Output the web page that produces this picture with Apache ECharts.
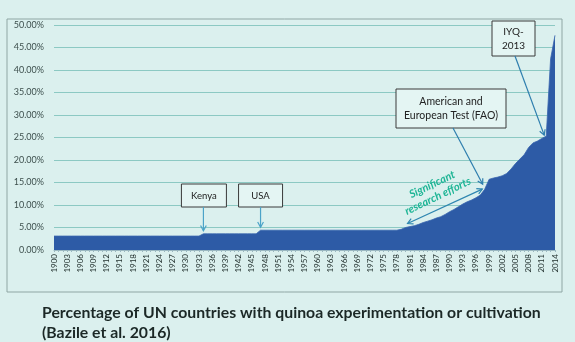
<!DOCTYPE html>
<html><head><meta charset="utf-8">
<script src="https://cdn.jsdelivr.net/npm/echarts@6/dist/echarts.min.js"></script>
<style>html,body{margin:0;padding:0;background:#dbf0ee;}#c{width:575px;height:342px;}</style>
</head><body><div id="c"></div>
<script>
// Categories: every year 1900..2014
const years = [];
for (let y = 1900; y <= 2014; y++) years.push(String(y));

// Percentage of UN countries with quinoa experimentation or cultivation (%)
const share = [
  3.1,3.1,3.1,3.1,3.1,3.1,3.1,3.1,3.1,3.1,      // 1900-1909
  3.1,3.1,3.1,3.1,3.1,3.1,3.1,3.1,3.1,3.1,      // 1910-1919
  3.1,3.1,3.1,3.1,3.1,3.1,3.1,3.1,3.1,3.1,      // 1920-1929
  3.1,3.1,3.1,3.1,3.6,3.6,3.6,3.6,3.6,3.6,      // 1930-1939
  3.6,3.6,3.6,3.6,3.6,3.6,3.6,4.4,4.4,4.4,      // 1940-1949
  4.4,4.4,4.4,4.4,4.4,4.4,4.4,4.4,4.4,4.4,      // 1950-1959
  4.4,4.4,4.4,4.4,4.4,4.4,4.4,4.4,4.4,4.4,      // 1960-1969
  4.4,4.4,4.4,4.4,4.4,4.4,4.4,4.4,4.4,4.6,      // 1970-1979
  5.0,5.2,5.4,5.7,6.1,6.4,6.7,7.1,7.4,7.9,      // 1980-1989
  8.5,9.0,9.6,10.2,10.7,11.1,11.6,12.2,13.5,15.7, // 1990-1999
  16.0,16.2,16.5,17.0,18.0,19.2,20.2,21.2,22.8,23.8, // 2000-2009
  24.2,24.8,25.3,42.5,47.7                      // 2010-2014
];

// Annotations
const notes = [
  {label: ['Kenya'], year: '1934'},
  {label: ['USA'], year: '1947'},
  {label: ['American and', 'European Test (FAO)'], year: '1998'},
  {label: ['IYQ-', '2013'], year: '2012'}
];
const effortSpan = ['1980', '1997'];
const effortText = 'Significant\nresearch efforts';
const titleLines = ['Percentage of UN countries with quinoa experimentation or cultivation', '(Bazile et al. 2016)'];

const FONT = 'Lato, "Liberation Sans", sans-serif';
const chart = echarts.init(document.getElementById('c'));
chart.setOption({
  backgroundColor: '#dbf0ee',
  animation: false,
  grid: {left: 54, right: 20, top: 25, bottom: 92},
  xAxis: {
    type: 'category', data: years, boundaryGap: false,
    axisLine: {lineStyle: {color: '#9ab7c0'}},
    axisTick: {show: true, interval: 0, length: 2, lineStyle: {color: '#9ab7c0'}},
    axisLabel: {interval: 2, rotate: 90, fontSize: 8, color: '#22302e', fontFamily: FONT, margin: 4},
    splitLine: {show: false}
  },
  yAxis: {
    type: 'value', min: 0, max: 50, interval: 5,
    axisLine: {show: false}, axisTick: {show: false},
    axisLabel: {formatter: v => v.toFixed(2) + '%', fontSize: 9, color: '#3d4f4d', fontFamily: FONT, margin: 10},
    splitLine: {lineStyle: {color: '#8cc9c3', width: 1}}
  },
  series: [{
    type: 'line', data: share, symbol: 'none',
    lineStyle: {width: 0.8, color: '#3a66ae'},
    areaStyle: {color: '#2d5ba6', opacity: 1}
  }]
});

function arrow(x1, y1, x2, y2, color, both) {
  const els = [{type: 'line', shape: {x1, y1, x2, y2}, style: {stroke: color, lineWidth: 1.2}, z: 10}];
  const head = (xa, ya, xb, yb) => {
    const a = Math.atan2(yb - ya, xb - xa), L = 6, w = 0.5;
    return {type: 'polyline', z: 10, shape: {points: [
      [xb - L * Math.cos(a - w), yb - L * Math.sin(a - w)], [xb, yb],
      [xb - L * Math.cos(a + w), yb - L * Math.sin(a + w)]]},
      style: {stroke: color, fill: null, lineWidth: 1.2}};
  };
  els.push(head(x1, y1, x2, y2));
  if (both) els.push(head(x2, y2, x1, y1));
  return els;
}
function box(x, y, w, h, lines, fs) {
  return [
    {type: 'rect', z: 10, shape: {x, y, width: w, height: h}, style: {fill: '#e4f5f3', stroke: '#3a3a3a', lineWidth: 1}},
    {type: 'text', z: 11, x: x + w / 2, y: y + h / 2, style: {text: lines.join('\n'), align: 'center', verticalAlign: 'middle', fontSize: fs, lineHeight: fs + 4, fill: '#222', fontFamily: FONT}}
  ];
}
const px = (yr) => chart.convertToPixel({gridIndex: 0}, [yr, share[years.indexOf(yr)]]);

const g = [];
// chart frame
g.push({type: 'rect', z: 0, shape: {x: 7, y: 19, width: 555, height: 273}, style: {fill: null, stroke: '#8fa6a4', lineWidth: 1}});
// Kenya
let p = px(notes[0].year);
g.push(...box(p[0] - 22, 184, 45, 23, notes[0].label, 9.5));
g.push(...arrow(p[0], 207, p[0], p[1] - 3, '#4ba3c8'));
// USA
p = px(notes[1].year);
g.push(...box(p[0] - 22, 184, 44, 23, notes[1].label, 9.5));
g.push(...arrow(p[0], 207, p[0], p[1] - 3, '#4ba3c8'));
// FAO
p = px(notes[2].year);
g.push(...box(396, 89, 110, 39, notes[2].label, 10.5));
g.push(...arrow(453, 128, p[0] - 2, p[1] - 5, '#2e7eae'));
// IYQ
p = px(notes[3].year);
g.push(...box(492, 21, 43, 35, notes[3].label, 10));
g.push(...arrow(515, 56, p[0] - 2, p[1] - 1, '#2e7eae'));
// research efforts
const a = px(effortSpan[0]), b = px(effortSpan[1]);
g.push(...arrow(a[0] + 2, a[1] - 4, b[0] + 2, b[1] - 6, '#2e86b0', true));
g.push({type: 'text', z: 11, x: (a[0] + b[0]) / 2 - 8, y: (a[1] + b[1]) / 2 - 21, rotation: 0.45,
  style: {text: effortText, align: 'center', verticalAlign: 'middle', fontSize: 11, lineHeight: 13,
    fontStyle: 'italic', fontWeight: 'bold', fill: '#1fb596', fontFamily: FONT}});
// caption
g.push({type: 'text', z: 11, x: 42, y: 303, style: {text: titleLines.join('\n'), fontSize: 15.8, lineHeight: 20, fontWeight: 'bold', fill: '#1b2826', fontFamily: FONT}});
chart.setOption({graphic: g});
</script></body></html>
